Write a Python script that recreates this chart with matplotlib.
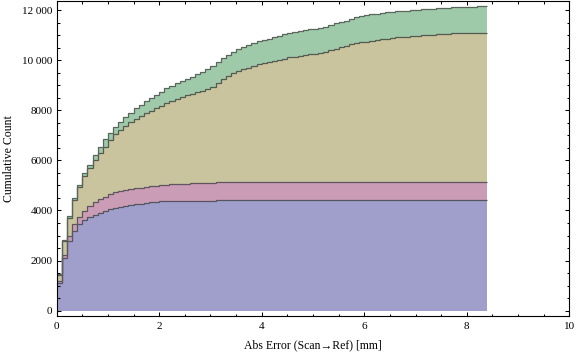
import numpy as np
import matplotlib
matplotlib.use("Agg")
import matplotlib.pyplot as plt
from matplotlib.ticker import MultipleLocator, FuncFormatter

plt.rcParams['font.family'] = ['Liberation Serif', 'DejaVu Serif']

# cumulative counts per 0.1 mm bin, one list per group (bottom to top of the stack)
bin_width = 0.1
blue_counts = [
    1120, 2090, 2780, 3190, 3450, 3620, 3740, 3820, 3890, 3980,
    4050, 4110, 4150, 4180, 4220, 4250, 4270, 4310, 4330, 4330,
    4370, 4370, 4370, 4370, 4370, 4370, 4370, 4370, 4370, 4370,
    4370, 4410, 4410, 4410, 4410, 4410, 4410, 4410, 4410, 4410,
    4410, 4410, 4410, 4410, 4410, 4410, 4410, 4410, 4410, 4410,
    4410, 4410, 4410, 4410, 4410, 4410, 4410, 4410, 4410, 4410,
    4410, 4410, 4410, 4410, 4410, 4410, 4410, 4410, 4410, 4410,
    4410, 4410, 4410, 4410, 4410, 4410, 4410, 4410, 4410, 4410,
    4410, 4410, 4410, 4410,
]
pink_counts = [
    70, 150, 220, 260, 300, 370, 450, 510, 560, 570,
    600, 620, 620, 630, 630, 640, 640, 640, 650, 650,
    650, 650, 680, 680, 680, 680, 720, 720, 720, 720,
    720, 720, 720, 720, 720, 720, 720, 720, 720, 720,
    720, 720, 720, 720, 720, 720, 720, 720, 720, 720,
    720, 720, 720, 720, 720, 720, 720, 720, 720, 720,
    720, 720, 720, 720, 720, 720, 720, 720, 720, 720,
    720, 720, 720, 720, 720, 720, 720, 720, 720, 720,
    720, 720, 720, 720,
]
tan_counts = [
    240, 540, 700, 960, 1180, 1390, 1510, 1690, 1860, 2000,
    2160, 2310, 2440, 2560, 2670, 2770, 2860, 2950, 3000, 3110,
    3150, 3260, 3310, 3390, 3470, 3550, 3560, 3640, 3680, 3750,
    3850, 3950, 4110, 4230, 4350, 4430, 4510, 4570, 4640, 4710,
    4760, 4800, 4840, 4880, 4920, 4980, 5010, 5050, 5080, 5100,
    5130, 5170, 5210, 5260, 5330, 5380, 5440, 5500, 5540, 5580,
    5610, 5650, 5680, 5700, 5730, 5760, 5780, 5800, 5800, 5820,
    5840, 5860, 5860, 5860, 5900, 5900, 5900, 5940, 5940, 5940,
    5940, 5940, 5940, 5940,
]
green_counts = [
    50, 60, 70, 80, 90, 100, 130, 200, 240, 290,
    300, 310, 340, 350, 360, 420, 440, 470, 500, 520,
    570, 600, 620, 640, 650, 650, 690, 710, 750, 800,
    820, 830, 840, 850, 860, 880, 880, 900, 910, 910,
    910, 930, 940, 970, 980, 990, 1000, 1000, 1000, 1000,
    1000, 1000, 1000, 1000, 1010, 1010, 1010, 1030, 1050, 1050,
    1050, 1050, 1050, 1050, 1050, 1050, 1050, 1050, 1050, 1050,
    1050, 1050, 1050, 1050, 1050, 1050, 1050, 1050, 1050, 1050,
    1050, 1050, 1080, 1080,
]

series = [blue_counts, pink_counts, tan_counts, green_counts]
fill_colors = ['#a09fcc', '#ca9cb6', '#c9c49e', '#9ecaaa']
line_colors = ['#55555f', '#5f5560', '#555a50', '#5a665c']

edges = np.arange(len(blue_counts) + 1) * bin_width
counts = np.array(series, dtype=float)
tops = np.cumsum(counts, axis=0)
bases = tops - counts

fig = plt.figure(figsize=(5.76, 3.57), dpi=100)
ax = fig.add_axes([56.7 / 576, 1 - 316 / 357, 512.6 / 576, 315.5 / 357])

for top, base, fc in zip(tops, bases, fill_colors):
    ax.stairs(top, edges, baseline=base, fill=True, color=fc, linewidth=0)
for top, lc in zip(tops, line_colors):
    ax.stairs(top, edges, baseline=None, color=lc, linewidth=0.9)

ax.set_xlim(0, 10)
ax.set_ylim(-212, 12383)

ax.xaxis.set_major_locator(MultipleLocator(2))
ax.xaxis.set_minor_locator(MultipleLocator(0.5))
ax.yaxis.set_major_locator(MultipleLocator(2000))
ax.yaxis.set_minor_locator(MultipleLocator(500))


def fmt_count(v, pos):
    s = '%d' % v
    if len(s) > 4:
        s = s[:-3] + ' ' + s[-3:]
    return s


ax.yaxis.set_major_formatter(FuncFormatter(fmt_count))

ax.tick_params(which='both', direction='in', top=True, right=True,
               width=0.75, labelsize=8, colors='black')
ax.tick_params(which='major', length=3.2)
ax.tick_params(which='minor', length=1.8)
ax.tick_params(axis='y', pad=3)
ax.tick_params(axis='x', pad=4)
for sp in ax.spines.values():
    sp.set_linewidth(0.8)

ax.set_xlabel('Abs Error (Scan\u2192Ref) [mm]', fontsize=8.5, labelpad=6)
ax.set_ylabel('Cumulative Count', fontsize=8.5, labelpad=5)

fig.savefig('out.png', dpi=100)
